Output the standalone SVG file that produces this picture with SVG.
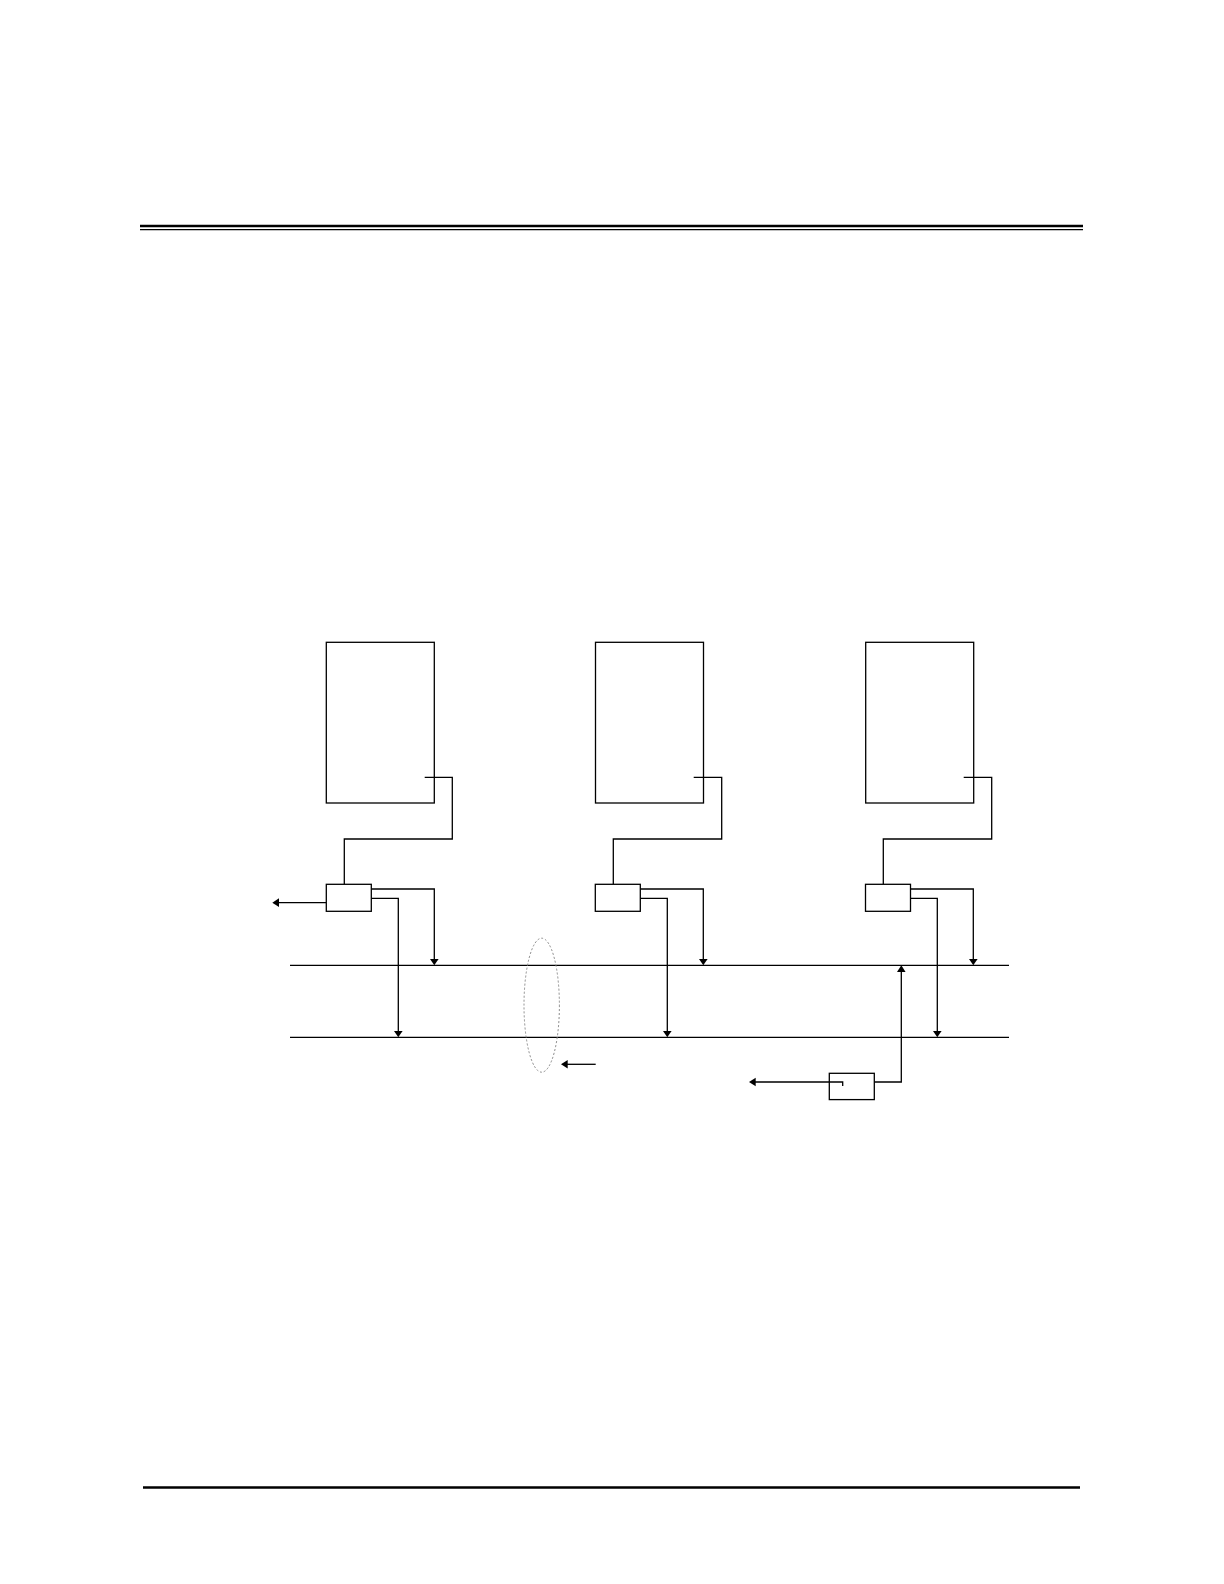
<svg xmlns="http://www.w3.org/2000/svg" width="1224" height="1584" viewBox="0 0 1224 1584">
<style>
.ln{fill:none;stroke:#000;stroke-width:1.3}
.bx{fill:#fff;stroke:#000;stroke-width:1.3}
.ah{fill:#000;stroke:none}
</style>
<rect width="1224" height="1584" fill="#fff"/>
<g id="rules">
<line x1="140" y1="226" x2="1083" y2="226" stroke="#000" stroke-width="2.6"/>
<line x1="140" y1="229.6" x2="1083" y2="229.6" stroke="#000" stroke-width="1.2"/>
<line x1="143" y1="1487.5" x2="1080" y2="1487.5" stroke="#000" stroke-width="2.6"/>
</g>
<g id="buses">
<line class="ln" x1="290" y1="965.3" x2="1009" y2="965.3"/>
<line class="ln" x1="290" y1="1037.3" x2="1009" y2="1037.3"/>
</g>
<g id="node-big1"><rect class="bx" x="326.3" y="642.3" width="108" height="160.7"/></g>
<g id="node-big2"><rect class="bx" x="595.5" y="642.3" width="108" height="160.7"/></g>
<g id="node-big3"><rect class="bx" x="865.7" y="642.3" width="108" height="160.7"/></g>
<g id="connectors">
<polyline class="ln" points="424.7,777.3 452.3,777.3 452.3,839 344.3,839 344.3,884.3"/>
<polyline class="ln" points="693.7,777.3 721.7,777.3 721.7,839 613.3,839 613.3,884.3"/>
<polyline class="ln" points="963.7,777.3 991.7,777.3 991.7,839 883.3,839 883.3,884.3"/>
<polyline class="ln" points="371.3,889 434.3,889 434.3,960"/>
<polyline class="ln" points="371.3,898.3 398.3,898.3 398.3,1032"/>
<polyline class="ln" points="640.3,889 703.3,889 703.3,960"/>
<polyline class="ln" points="640.3,898.3 667.3,898.3 667.3,1032"/>
<polyline class="ln" points="910.7,889 973.3,889 973.3,960"/>
<polyline class="ln" points="910.7,898.3 937.3,898.3 937.3,1032"/>
<line class="ln" x1="326.3" y1="902.7" x2="278" y2="902.7"/>
<polyline class="ln" points="874.3,1082 901.3,1082 901.3,970"/>
<polyline class="ln" points="842.7,1086 842.7,1082 755,1082"/>
<line class="ln" x1="595.7" y1="1064.3" x2="567" y2="1064.3"/>
<polygon class="ah" points="430,959 438.6,959 434.3,965.3"/>
<polygon class="ah" points="394,1031 402.6,1031 398.3,1037.3"/>
<polygon class="ah" points="699,959 707.6,959 703.3,965.3"/>
<polygon class="ah" points="663,1031 671.6,1031 667.3,1037.3"/>
<polygon class="ah" points="969,959 977.6,959 973.3,965.3"/>
<polygon class="ah" points="933,1031 941.6,1031 937.3,1037.3"/>
<polygon class="ah" points="897,972 905.6,972 901.3,965.3"/>
<polygon class="ah" points="279,898.3 279,907.1 272.3,902.7"/>
<polygon class="ah" points="755.7,1077.7 755.7,1086.3 749,1082"/>
<polygon class="ah" points="567.7,1060 567.7,1068.6 561,1064.3"/>
<ellipse cx="541.7" cy="1005.2" rx="17.7" ry="67" fill="none" stroke="#888" stroke-width="1" stroke-dasharray="2,2"/>
</g>
<g id="node-small1"><rect class="bx" x="326.3" y="884.3" width="45" height="27"/></g>
<g id="node-small2"><rect class="bx" x="595.3" y="884.3" width="45" height="27"/></g>
<g id="node-small3"><rect class="bx" x="865.5" y="884.3" width="45" height="27"/></g>
<g id="node-small4"><rect class="ln" x="829.3" y="1073.3" width="45" height="26.3"/></g>
</svg>
